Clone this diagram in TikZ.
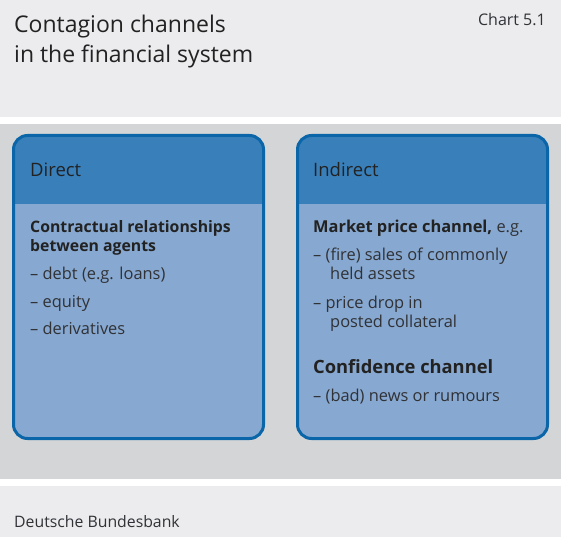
\documentclass[tikz,border=0pt]{standalone}
\usepackage{fontspec}
\setmainfont{Open Sans}
\definecolor{lightbg}{HTML}{ECECEE}
\definecolor{midbg}{HTML}{D4D5D7}
\definecolor{frameblue}{HTML}{0A66A8}
\definecolor{headblue}{HTML}{3980BB}
\definecolor{bodyblue}{HTML}{87A8D0}
\definecolor{txt}{HTML}{222222}
\definecolor{txtlight}{HTML}{303236}
\tikzset{
  panel/.style={draw=frameblue, line width=3pt, rounded corners=14pt, fill=bodyblue,
    minimum width=250pt, minimum height=303pt, inner sep=0pt,
    path picture={\fill[headblue, sharp corners] (path picture bounding box.north west) rectangle ([yshift=-68pt]path picture bounding box.north east);}},
  headtxt/.style={anchor=base west, inner sep=0pt, text=txt, font=\fontsize{18.5}{22}\selectfont},
  bodytxt/.style={anchor=base west, inner sep=0pt, text=txtlight, font=\fontsize{16.4}{19}\selectfont},
  boldtxt/.style={anchor=base west, inner sep=0pt, text=txt, font=\fontsize{15.8}{19}\selectfont\bfseries},
}
\begin{document}
\begin{tikzpicture}[x=1pt,y=-1pt]
\useasboundingbox (0,0) rectangle (561,537);
\fill[white] (0,0) rectangle (561,537);
\fill[lightbg] (0,0) rectangle (561,117);
\fill[midbg] (0,124) rectangle (561,479);
\fill[lightbg] (0,486) rectangle (561,537);
\node[anchor=base west, inner sep=0pt, text=txt, font=\fontsize{23}{31}\selectfont] (title1) at (14,33) {Contagion channels};
\node[anchor=base west, inner sep=0pt, text=txt, font=\fontsize{23}{31}\selectfont] (title2) at (14,63) {in the financial system};
\node[anchor=base east, inner sep=0pt, text=txtlight, font=\fontsize{16}{19}\selectfont] (chart) at (546,26) {Chart 5.1};
\node[panel] (direct) at (138.5,287) {};
\node[panel] (indirect) at (422.5,287) {};
\node[headtxt] (dh) at (30,177) {Direct};
\node[headtxt] (ih) at (313,177) {Indirect};
\node[boldtxt] (d1) at (30,232) {Contractual relationships};
\node[boldtxt] (d2) at (30,251) {between agents};
\node[bodytxt] (d3) at (30,279) {– debt (e.g. loans)};
\node[bodytxt] (d4) at (30,307) {– equity};
\node[bodytxt] (d5) at (30,334) {– derivatives};
\node[bodytxt] (i1) at (313,232) {\bfseries\color{txt}Market price channel,\mdseries\color{txtlight}\ e.g.};
\node[bodytxt] (i2) at (313,260) {– (fire) sales of commonly};
\node[bodytxt] (i3) at (330,279) {held assets};
\node[bodytxt] (i4) at (313,308) {– price drop in};
\node[bodytxt] (i5) at (330,327) {posted collateral};
\node[boldtxt, font=\fontsize{18.3}{22}\selectfont\bfseries] (i6) at (313,373) {Confidence channel};
\node[bodytxt] (i7) at (313,401) {– (bad) news or rumours};
\node[anchor=base west, inner sep=0pt, text=txtlight, font=\fontsize{15.8}{19}\selectfont] (src) at (14,527) {Deutsche Bundesbank};
\end{tikzpicture}
\end{document}
